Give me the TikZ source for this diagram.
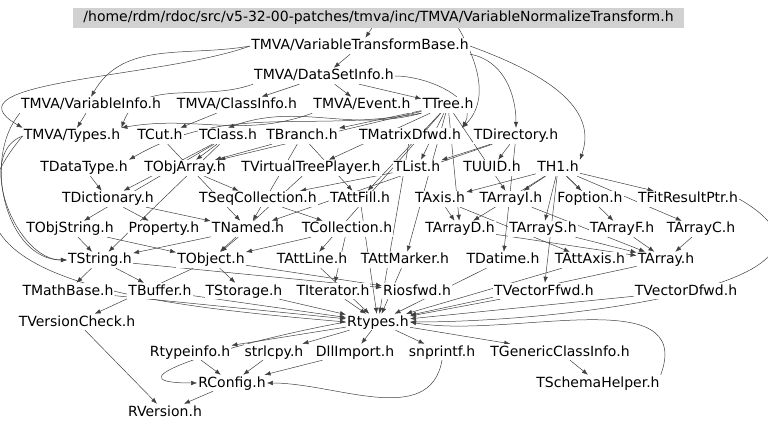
\documentclass[tikz,border=0pt]{standalone}
\usepackage{fontspec}
\setmainfont{DejaVu Sans}
\usetikzlibrary{arrows.meta}
\pgfdeclarelayer{background}
\pgfsetlayers{background,main}

\begin{document}
\begin{tikzpicture}[x=1pt,y=-1pt,
    file/.style={fill=white, inner sep=1pt, text height=11pt, text depth=3pt, font=\fontsize{14}{16}\selectfont},
    dep/.style={-{Latex[length=6pt,width=4.5pt]}, draw=black!75, line width=0.5pt}]
    \useasboundingbox (0,0) rectangle (768,430);
    \node[file, fill=black!18, minimum width=611pt, minimum height=20pt] (root) at (378.5,18) {/home/rdm/rdoc/src/v5-32-00-patches/tmva/inc/TMVA/VariableNormalizeTransform.h};

    \node[file] (vtb) at (360,46) {TMVA/VariableTransformBase.h};
    \node[file] (dsi) at (324,76) {TMVA/DataSetInfo.h};

    \node[file] (vinfo) at (91,105) {TMVA/VariableInfo.h};
    \node[file] (cinfo) at (237,105) {TMVA/ClassInfo.h};
    \node[file] (event) at (362,105) {TMVA/Event.h};
    \node[file] (ttree) at (448,105) {TTree.h};

    \node[file] (types) at (72,136) {TMVA/Types.h};
    \node[file] (tcut) at (160,136) {TCut.h};
    \node[file] (tclass) at (228,136) {TClass.h};
    \node[file] (tbranch) at (302,136) {TBranch.h};
    \node[file] (tmatd) at (410,136) {TMatrixDfwd.h};
    \node[file] (tdir) at (516,136) {TDirectory.h};

    \node[file] (tdtype) at (84,168) {TDataType.h};
    \node[file] (tobjarr) at (185,168) {TObjArray.h};
    \node[file] (tvtp) at (311,168) {TVirtualTreePlayer.h};
    \node[file] (tlist) at (417,168) {TList.h};
    \node[file] (tuuid) at (492,168) {TUUID.h};
    \node[file] (th1) at (558,168) {TH1.h};

    \node[file] (tdict) at (108,199) {TDictionary.h};
    \node[file] (tseq) at (258,199) {TSeqCollection.h};
    \node[file] (tattfill) at (360,199) {TAttFill.h};
    \node[file] (taxis) at (440,199) {TAxis.h};
    \node[file] (tarri) at (511,199) {TArrayI.h};
    \node[file] (fopt) at (590,199) {Foption.h};
    \node[file] (tfitres) at (688,199) {TFitResultPtr.h};

    \node[file] (tobjstr) at (70,229) {TObjString.h};
    \node[file] (prop) at (164,229) {Property.h};
    \node[file] (tnamed) at (248,229) {TNamed.h};
    \node[file] (tcoll) at (347,229) {TCollection.h};
    \node[file] (tarrd) at (460,229) {TArrayD.h};
    \node[file] (tarrs) at (543,229) {TArrayS.h};
    \node[file] (tarrf) at (622,229) {TArrayF.h};
    \node[file] (tarrc) at (701,229) {TArrayC.h};

    \node[file] (tstring) at (100,260) {TString.h};
    \node[file] (tobject) at (211,260) {TObject.h};
    \node[file] (tattline) at (312,260) {TAttLine.h};
    \node[file] (tattmark) at (405,260) {TAttMarker.h};
    \node[file] (tdatime) at (503,260) {TDatime.h};
    \node[file] (tattaxis) at (590,260) {TAttAxis.h};
    \node[file] (tarray) at (666,260) {TArray.h};

    \node[file] (tmathb) at (68,291) {TMathBase.h};
    \node[file] (tbuffer) at (160,291) {TBuffer.h};
    \node[file] (tstorage) at (244,291) {TStorage.h};
    \node[file] (titer) at (333,291) {TIterator.h};
    \node[file] (riosfwd) at (417,291) {Riosfwd.h};
    \node[file] (tvecf) at (544,291) {TVectorFfwd.h};
    \node[file] (tvecd) at (686,291) {TVectorDfwd.h};

    \node[file] (tvcheck) at (77,322) {TVersionCheck.h};
    \node[file] (rtypes) at (378,322) {Rtypes.h};

    \node[file] (rtinfo) at (190,352) {Rtypeinfo.h};
    \node[file] (strlcpy) at (274,352) {strlcpy.h};
    \node[file] (dllimp) at (355,352) {DllImport.h};
    \node[file] (snprintf) at (442,352) {snprintf.h};
    \node[file] (tgci) at (560,352) {TGenericClassInfo.h};

    \node[file] (rconfig) at (232,383) {RConfig.h};
    \node[file] (tschema) at (598,383) {TSchemaHelper.h};
    \node[file] (rversion) at (165,412) {RVersion.h};

    \begin{pgfonlayer}{background}
    \draw[dep] (root) -- (vtb);
    \draw[dep] ([xshift=80pt]root.south) to[out=-60,in=45] (tmatd.north east);
    \draw[dep] (vtb) -- (dsi);
    \draw[dep] (vtb.west) to[out=190,in=60] (vinfo.north);
    \draw[dep] (vtb.south east) to[out=-10,in=90] (tdir.north);
    \draw[dep] (vtb.east) to[out=-20,in=70] (th1.north east);
    \draw[dep] (vtb.west) to[out=200,in=150] (types.north west);
    \draw[dep] (dsi) -- (cinfo);
    \draw[dep] (dsi) -- (event);
    \draw[dep] (dsi) -- (ttree);
    \draw[dep] (dsi.south west) to[out=200,in=70] (types.north east);
    \draw[dep] (dsi.east) to[out=0,in=60] (tmatd.north east);
    \draw[dep] (vinfo) -- (types);
    \draw[dep] (vinfo.south west) to[out=-130,in=180] (tstring.west);
    \draw[dep] (cinfo) -- (tcut);
    \draw[dep] (event.south west) to[out=200,in=10] (types.north east);
    \draw[dep] (ttree) -- (tbranch);
    \draw[dep] (ttree.south west) to[out=195,in=20] (tclass.north);
    \draw[dep] (ttree) -- (tvtp);
    \draw[dep] (ttree) -- (tobjarr);
    \draw[dep] (ttree) -- (tlist);
    \draw[dep] (ttree.south west) to[out=190,in=30] (tdtype.north east);
    \draw[dep] (ttree) -- (tattfill);
    \draw[dep] (ttree) -- (tattline);
    \draw[dep] (ttree) -- (tattmark);
    \draw[dep] (ttree) -- (tarrd);
    \draw[dep] (ttree) -- (tarri);
    \draw[dep] (tbranch) -- (tobjarr);
    \draw[dep] (tbranch) -- (tnamed);
    \draw[dep] (tbranch) -- (tattfill);
    \draw[dep] (tclass) -- (tdict);
    \draw[dep] (tclass) -- (tobjarr);
    \draw[dep] (tclass) -- (tobjstr);
    \draw[dep] (tclass) -- (tstring);
    \draw[dep] (tcut) -- (tnamed);
    \draw[dep] (tmatd) -- (rtypes);
    \draw[dep] (tdir) -- (tnamed);
    \draw[dep] (tdir) -- (tlist);
    \draw[dep] (tdir) -- (tuuid);
    \draw[dep] (tdir) -- (tdatime);
    \draw[dep] (types.west) to[out=200,in=180] (tstring.west);
    \draw[dep] (types.west) to[out=230,in=175,looseness=1.3] (rtypes.west);
    \draw[dep] (tdtype) -- (tdict);
    \draw[dep] (tobjarr) -- (tseq);
    \draw[dep] (tvtp) -- (tobject);
    \draw[dep] (tlist) -- (tseq);
    \draw[dep] (th1) -- (taxis);
    \draw[dep] (th1) -- (tarri);
    \draw[dep] (th1) -- (fopt);
    \draw[dep] (th1) -- (tfitres);
    \draw[dep] (th1) -- (tarrc);
    \draw[dep] (th1) -- (tarrs);
    \draw[dep] (th1) -- (tarrf);
    \draw[dep] (th1) -- (tarrd);
    \draw[dep] (th1) -- (tvecf);
    \draw[dep] (tfitres.east) to[out=-30,in=0,looseness=1.2] (rtypes.east);
    \draw[dep] (tdict) -- (tnamed);
    \draw[dep] (tdict) -- (prop);
    \draw[dep] (tseq) -- (tcoll);
    \draw[dep] (tattfill) -- (rtypes);
    \draw[dep] (taxis) -- (tattaxis);
    \draw[dep] (taxis) -- (tarrd);
    \draw[dep] (tarri) -- (tarray);
    \draw[dep] (tobjstr) -- (tstring);
    \draw[dep] (tobjstr) -- (tobject);
    \draw[dep] (tnamed) -- (tobject);
    \draw[dep] (tnamed) -- (tstring);
    \draw[dep] (tcoll) -- (tobject);
    \draw[dep] (tcoll) -- (titer);
    \draw[dep] (tarrd) -- (tarray);
    \draw[dep] (tarrs) -- (tarray);
    \draw[dep] (tarrf) -- (tarray);
    \draw[dep] (tarrc) -- (tarray);
    \draw[dep] (tstring) -- (tmathb);
    \draw[dep] (tstring) -- (tbuffer);
    \draw[dep] (tstring) -- (riosfwd);
    \draw[dep] (tobject) -- (tstorage);
    \draw[dep] (tobject) -- (riosfwd);
    \draw[dep] (tobject) -- (tvcheck);
    \draw[dep] (tattline) -- (rtypes);
    \draw[dep] (tattmark) -- (rtypes);
    \draw[dep] (tdatime) -- (rtypes);
    \draw[dep] (tattaxis) -- (rtypes);
    \draw[dep] (tarray) -- (rtypes);
    \draw[dep] (tmathb) -- (rtypes);
    \draw[dep] (tbuffer) -- (rtypes);
    \draw[dep] (tstorage) -- (rtypes);
    \draw[dep] (titer) -- (rtypes);
    \draw[dep] (tvecf) -- (rtypes);
    \draw[dep] (tvecd) -- (rtypes);
    \draw[dep] (tvcheck) -- (rversion);
    \draw[dep] (rtypes) -- (rtinfo);
    \draw[dep] (rtypes) -- (strlcpy);
    \draw[dep] (rtypes) -- (dllimp);
    \draw[dep] (rtypes) -- (snprintf);
    \draw[dep] (rtypes) -- (tgci);
    \draw[dep] (rtypes.west) to[out=190,in=180,looseness=1.6] (rconfig.west);
    \draw[dep] (rtinfo) -- (rconfig);
    \draw[dep] (strlcpy) -- (rconfig);
    \draw[dep] (dllimp) -- (rconfig);
    \draw[dep] (snprintf.south) to[out=-100,in=0] (rconfig.east);
    \draw[dep] (tgci) -- (tschema);
    \draw[dep] (tschema.north east) to[out=70,in=-10] (rtypes.east);
    \draw[dep] (rconfig) -- (rversion);
    \end{pgfonlayer}
\end{tikzpicture}
\end{document}
